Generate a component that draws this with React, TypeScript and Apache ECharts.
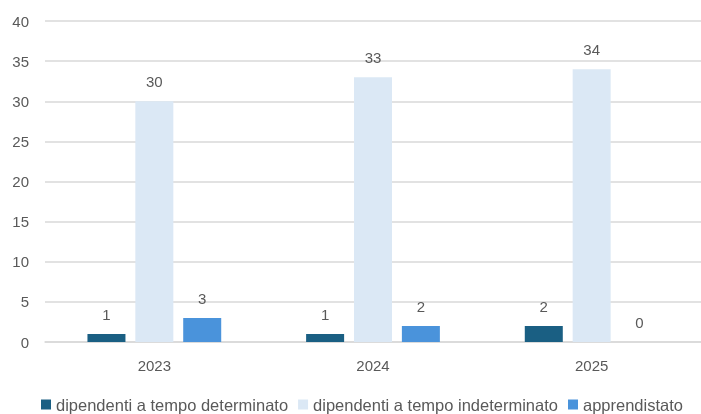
import React, { useEffect, useRef } from "react";
import * as echarts from "echarts";

const years = ["2023", "2024", "2025"];
const determinato = [1, 1, 2];
const indeterminato = [30, 33, 34];
const apprendistato = [3, 2, 0];
const seriesNames = [
  "dipendenti a tempo determinato",
  "dipendenti a tempo indeterminato",
  "apprendistato",
];
const colors = ["#1a5f83", "#dbe8f5", "#4a93db"];

export default function App() {
  const ref = useRef<HTMLDivElement>(null);
  useEffect(() => {
    document.documentElement.style.overflow = "hidden";
    document.body.style.margin = "0";
    document.body.style.overflow = "hidden";
    const chart = echarts.init(ref.current!, null, { renderer: "svg" });
    const font = "Liberation Sans, Arial, sans-serif";
    const label = {
      show: true,
      position: "top" as const,
      distance: 12,
      color: "#595959",
      fontSize: 15,
      fontFamily: font,
    };
    const datas = [determinato, indeterminato, apprendistato];
    chart.setOption({
      animation: false,
      grid: { left: 45, width: 660, top: 21, height: 321, containLabel: false },
      legend: {
        bottom: -4,
        left: 36,
        itemWidth: 10,
        itemHeight: 10,
        itemGap: 10,
        icon: "rect",
        textStyle: { color: "#595959", fontSize: 16.5, fontFamily: font },
        data: seriesNames,
      },
      xAxis: {
        type: "category",
        data: years,
        axisLine: { lineStyle: { color: "#d9d9d9", width: 1.5 } },
        axisTick: { show: false },
        axisLabel: { color: "#595959", fontSize: 15, margin: 16, fontFamily: font },
      },
      yAxis: {
        type: "value",
        min: 0,
        max: 40,
        interval: 5,
        axisLine: { show: false },
        axisTick: { show: false },
        splitLine: { lineStyle: { color: "#d9d9d9", width: 1.5 } },
        axisLabel: { color: "#595959", fontSize: 15, margin: 16, fontFamily: font },
      },
      series: seriesNames.map((name, i) => ({
        name,
        type: "bar",
        data: datas[i],
        barWidth: 38,
        barGap: "26%",
        barCategoryGap: "39%",
        itemStyle: { color: colors[i] },
        label,
      })),
    });
    return () => chart.dispose();
  }, []);
  return (
    <div
      ref={ref}
      style={{ position: "fixed", left: 0, top: 0, width: 701, height: 414 }}
    />
  );
}
